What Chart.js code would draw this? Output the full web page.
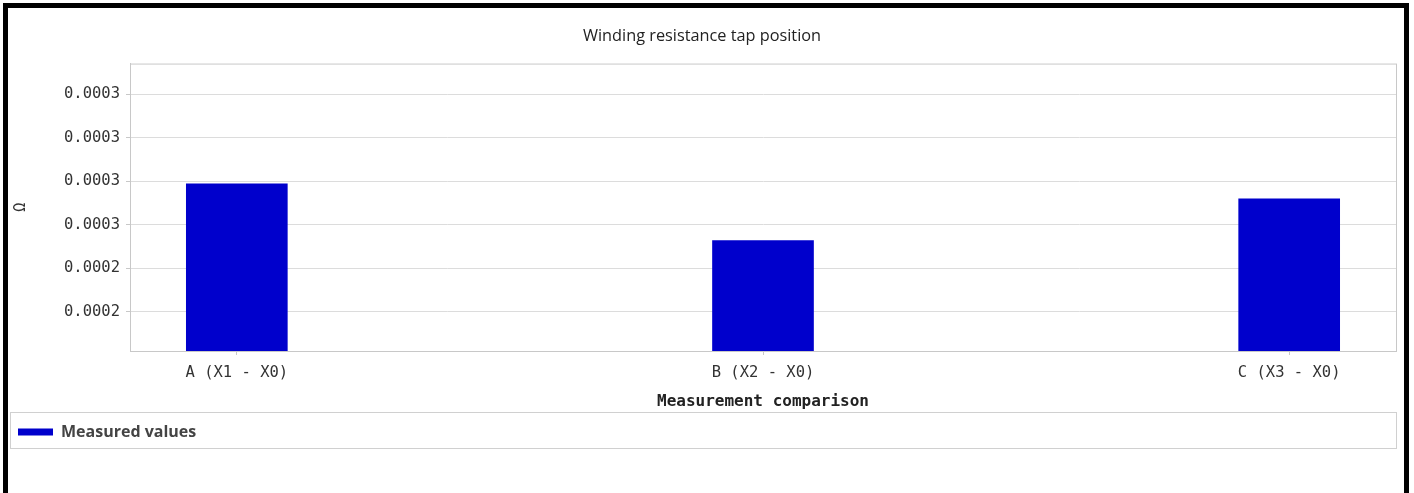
<!DOCTYPE html>
<html>
<head>
<meta charset="utf-8">
<script src="https://cdn.jsdelivr.net/npm/chart.js@4/dist/chart.umd.min.js"></script>
<style>
  body { margin: 0; background: #fff; }
  #frame {
    position: absolute; left: 3px; top: 3px;
    width: 1396px; height: 500px;
    border: 5px solid #000;
  }
  #myChart { display: block; }
</style>
</head>
<body>
<div id="frame">
  <canvas id="myChart" width="1396" height="485" style="width:1396px;height:485px"></canvas>
</div>
<script>
const categories = ["A (X1 - X0)", "B (X2 - X0)", "C (X3 - X0)"];
const measuredValues = [0.0002788, 0.0002527, 0.0002719];
const yTickValues = [0.00022, 0.00024, 0.00026, 0.00028, 0.00030, 0.00032];
const yMin = 0.0002018;
const yMax = 0.0003342;

const monoFont = "'DejaVu Sans Mono', monospace";
const graphic = document.getElementById("myChart").getContext("2d");

// outline of the plot area and the box round the legend
const framePlugin = {
    id: "frames",
    afterDraw(chart) {
        const ctx = chart.ctx;
        const area = chart.chartArea;
        const lg = chart.legend;
        ctx.save();
        ctx.strokeStyle = "#c8c8c8";
        ctx.lineWidth = 1;
        ctx.strokeRect(area.left + 0.5, area.top + 0.5, area.right - area.left, area.bottom - area.top);
        ctx.strokeStyle = "#d0d0d0";
        ctx.strokeRect(2.5, lg.top - 1.5, area.right - 2, lg.bottom - lg.top);
        ctx.restore();
    }
};

const config = {
    type: "bar",
    data: {
        datasets: [{
            label: "Measured values",
            data: measuredValues.map((v, i) => ({ x: i, y: v })),
            backgroundColor: "#0000cc",
            borderWidth: 0,
            barThickness: 101
        }]
    },
    options: {
        responsive: false,
        animation: false,
        layout: { padding: { left: 0, right: 8, top: 0, bottom: 43 } },
        plugins: {
            title: {
                display: true,
                text: "Winding resistance tap position",
                color: "#222",
                font: { family: "'Open Sans', sans-serif", size: 16.3, weight: "normal" },
                padding: { top: 18.5, bottom: 17.5 }
            },
            legend: {
                position: "bottom",
                align: "start",
                labels: {
                    boxWidth: 35,
                    boxHeight: 7,
                    padding: 10,
                    color: "#444",
                    font: { family: "'Open Sans', sans-serif", size: 16, weight: "bold" }
                }
            },
            tooltip: { enabled: false }
        },
        scales: {
            x: {
                type: "linear",
                offset: false,
                min: -0.203,
                max: 2.203,
                afterBuildTicks(scale) {
                    scale.ticks = categories.map((c, i) => ({ value: i }));
                },
                afterFit(scale) { scale.height = 63; },
                ticks: {
                    callback: (v) => categories[v],
                    color: "#333",
                    font: { family: monoFont, size: 15.5 },
                    padding: 9,
                    maxRotation: 0
                },
                grid: { offset: false, drawOnChartArea: false, drawTicks: true, tickLength: 4, color: "#c8c8c8" },
                border: { color: "#c8c8c8" },
                title: {
                    display: true,
                    text: "Measurement comparison",
                    color: "#222",
                    font: { family: monoFont, size: 16, weight: "bold" },
                    padding: { top: 3, bottom: 3 }
                }
            },
            y: {
                min: yMin,
                max: yMax,
                afterBuildTicks(scale) {
                    scale.ticks = yTickValues.map((v) => ({ value: v }));
                },
                afterFit(scale) { scale.width = 122; },
                ticks: {
                    callback: (v) => v.toFixed(4),
                    color: "#333",
                    font: { family: monoFont, size: 15.5 },
                    padding: 6
                },
                grid: { color: "#dcdcdc", tickLength: 4, tickColor: "#c8c8c8" },
                border: { color: "#c8c8c8" },
                title: {
                    display: true,
                    text: "Ω",
                    color: "#333",
                    font: { family: monoFont, size: 15, weight: "normal" },
                    padding: 4
                }
            }
        }
    },
    plugins: [framePlugin]
};

window.graphic = new Chart(graphic, config);
</script>
</body>
</html>
